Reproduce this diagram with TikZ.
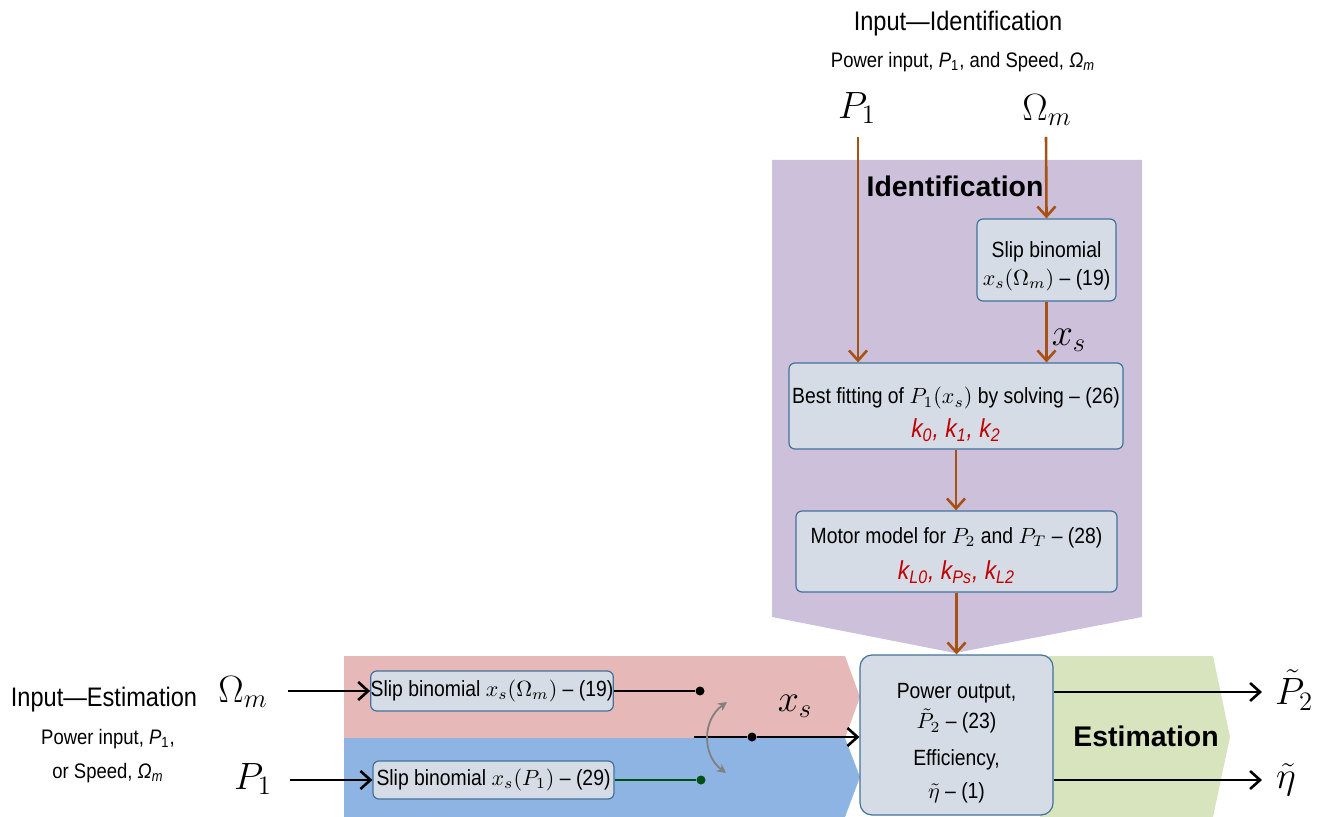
\RequirePackage{fix-cm}
\documentclass[tikz,border=0pt]{standalone}
\usepackage[no-math]{fontspec}
\setmainfont{Liberation Sans}[FakeStretch=0.88]
\newfontfamily\widefont{Liberation Sans}
\usetikzlibrary{arrows.meta}
\definecolor{purp}{RGB}{204,192,218}
\definecolor{pinkc}{RGB}{230,185,184}
\definecolor{bluec}{RGB}{142,180,227}
\definecolor{greenc}{RGB}{215,228,189}
\definecolor{boxfill}{RGB}{214,220,229}
\definecolor{boxline}{RGB}{65,113,156}
\definecolor{brn}{RGB}{165,82,20}
\definecolor{redk}{RGB}{192,0,0}
\definecolor{dgreen}{RGB}{0,80,20}
\newcommand\bigmath{\fontsize{19}{22}\selectfont}
\newcommand\boxfont{\fontsize{11}{14}\selectfont}
\newcommand\kfont{\fontsize{13}{15}\selectfont\color{redk}\itshape}
\newcommand\tstrut[1]{\rule{0pt}{#1}}
\begin{document}
\begin{tikzpicture}[x=0.5pt,y=-0.5pt,
  box/.style={draw=boxline, fill=boxfill, rounded corners=3pt, line width=0.6pt,
    inner sep=0pt, align=center, font=\boxfont},
  idarr/.style={draw=brn, line width=1.3pt, -{Straight Barb[length=5pt,width=9pt,line width=1.3pt]}},
  blkarr/.style={draw=black, line width=1.3pt, -{Straight Barb[length=5pt,width=9pt,line width=1.3pt]}},
  dot/.style={circle, fill=#1, inner sep=0pt, minimum size=4.5pt},
  dot/.default=black,
  biglbl/.style={font=\bigmath, inner sep=0pt},
  title/.style={font=\fontsize{13.4}{16}\selectfont, inner sep=0pt},
  sub/.style={font=\fontsize{10.5}{17}\selectfont, inner sep=0pt, align=center},
  bandlbl/.style={font=\widefont\bfseries\fontsize{14.2}{16}\selectfont, inner sep=0pt}
]
\useasboundingbox (0,0) rectangle (1320,817);
% background bands
\fill[purp] (772,160) -- (1142,160) -- (1142,617) -- (955,653) -- (772,617) -- cycle;
\fill[pinkc] (344,656) -- (845,656) -- (860,697) -- (845,738) -- (344,738) -- cycle;
\fill[bluec] (344,738) -- (845,738) -- (860,777) -- (845,817) -- (344,817) -- cycle;
\fill[greenc] (1040,656) -- (1213,656) -- (1230,737) -- (1213,817) -- (1040,817) -- cycle;

% titles
\node[title] (tid) at (958,24) {Input---Identification};
\node[sub] (sid) at (963,62) {Power input, \textit{P}\textsubscript{1}, and Speed, \textit{Ω\textsubscript{m}}};
\node[bandlbl] (lid) at (955,186) {Identification};
\node[bandlbl] (lest) at (1146,736) {Estimation};
\node[title] (tes) at (104,700) {Input---Estimation};
\node[sub] (ses) at (108,756) {Power input, \textit{P}\textsubscript{1},\\or Speed, \textit{Ω\textsubscript{m}}};

% identification labels
\node[biglbl] (p1i) at (857,108) {$P_1$};
\node[biglbl] (omi) at (1047,110) {$\Omega_m$};
\coordinate (p1s) at (858,137);
\coordinate (oms) at (1046,137);

% boxes
\node[box, minimum width=69.5pt, minimum height=41pt] (slipA) at (1046.5,260)
  {\tstrut{14pt}Slip binomial\\[0pt]$x_s(\Omega_m)$ -- (19)};
\node[box, minimum width=167pt, minimum height=43pt] (best) at (956,406)
  {\tstrut{17pt}Best fitting of $P_1(x_s)$ by solving -- (26)\\[3pt]{\kfont k\textsubscript{0}, k\textsubscript{1}, k\textsubscript{2}}};
\node[box, minimum width=160.5pt, minimum height=40.5pt] (motor) at (956.5,551.5)
  {\tstrut{12pt}Motor model for $P_2$ and $P_T$ -- (28)\\[4pt]{\kfont k\textsubscript{L0}, k\textsubscript{Ps}, k\textsubscript{L2}}};
\node[box, rounded corners=6pt, minimum width=96.5pt, minimum height=80pt] (power) at (956.5,735)
  {\tstrut{16pt}Power output,\\[1pt]$\tilde{P}_2$ -- (23)\\[4.5pt]Efficiency,\\[2.5pt]$\tilde{\eta}$ -- (1)};
\node[box, minimum width=121pt, minimum height=20pt] (slipE1) at (492,691)
  {Slip binomial $x_s(\Omega_m)$ -- (19)};
\node[box, minimum width=120.5pt, minimum height=19pt] (slipE2) at (493.5,780)
  {Slip binomial $x_s(P_1)$ -- (29)};

% identification arrows
\draw[idarr] (p1s) -- (p1s |- best.north);
\draw[idarr] (oms) -- (slipA.north);
\draw[idarr] (slipA.south) -- (slipA.south |- best.north);
\node[biglbl] (xsi) at (1069,340) {$x_s$};
\draw[idarr] (best.south) -- (best.south |- motor.north);
\draw[idarr] (motor.south) -- (motor.south |- power.north);

% estimation inputs
\node[biglbl] (ome) at (243,692) {$\Omega_m$};
\node[biglbl] (p1e) at (253,779) {$P_1$};
\coordinate (omes) at (288,691);
\coordinate (p1es) at (290,780);
\draw[blkarr] (omes) -- (omes -| slipE1.west);
\draw[blkarr] (p1es) -- (p1es -| slipE2.west);

% switch
\node[dot] (d1) at (700,691) {};
\node[dot=dgreen] (d2) at (701,780) {};
\draw[line width=1.2pt] (slipE1.east |- d1) -- (d1);
\draw[line width=1.2pt, dgreen] (slipE2.east |- d2) -- (d2);
\coordinate (xs0) at (694,737);
\node[dot] (d3) at (752,737) {};
\draw[line width=1.3pt] (xs0) -- (d3);
\draw[blkarr] (d3) -- (d3 -| power.west);
\node[biglbl] (xse) at (795,706) {$x_s$};
\coordinate (sw1) at (727,702);
\coordinate (sw2) at (726,773);
\draw[gray, line width=0.9pt, {Stealth[length=4.5pt,width=4.5pt]}-{Stealth[length=4.5pt,width=4.5pt]}]
  (sw1) .. controls (702,720) and (702,755) .. (sw2);

% outputs
\coordinate (o1) at (1262,692);
\coordinate (o2) at (1262,780);
\draw[blkarr] (o1 -| power.east) -- (o1);
\draw[blkarr] (o2 -| power.east) -- (o2);
\node[biglbl] (p2t) at (1294,690) {$\tilde{P}_2$};
\node[biglbl] (etat) at (1286,780) {$\tilde{\eta}$};
\end{tikzpicture}
\end{document}
